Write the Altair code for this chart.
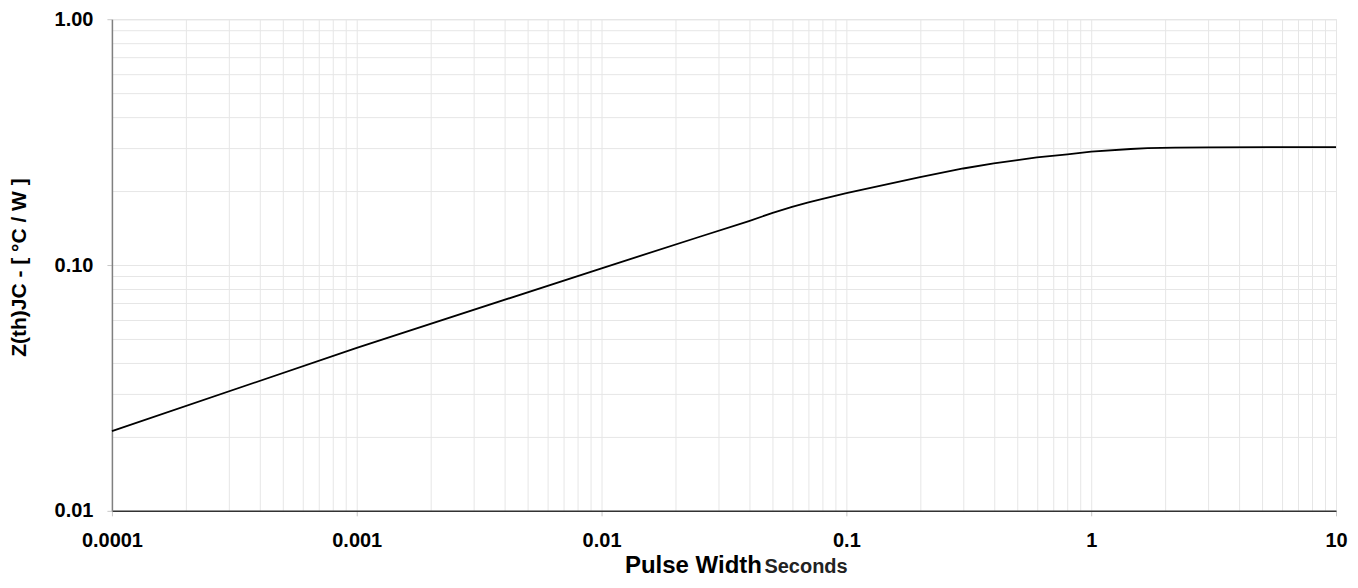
import altair as alt
import pandas as pd

# curve (pulse width in s, Zth in degC/W)
pulse_width = [0.0001, 0.001, 0.01, 0.025, 0.04, 0.05, 0.06, 0.07, 0.08, 0.1, 0.2, 0.3,
               0.4, 0.5, 0.6, 0.8, 1.0, 1.45, 1.7, 2.2, 3.0, 10.0]
zth = [0.0211, 0.046, 0.097, 0.130, 0.151, 0.163, 0.1725, 0.180, 0.186, 0.196, 0.228, 0.247,
       0.259, 0.267, 0.274, 0.282, 0.289, 0.2965, 0.299, 0.3005, 0.301, 0.302]

x_grid = [m * 10.0 ** e for e in range(-4, 1) for m in range(1, 10)] + [10.0]
y_grid = [m * 10.0 ** e for e in range(-2, 0) for m in range(1, 10)] + [1.0]

df = pd.DataFrame({"t": pulse_width, "z": zth})

W, H = 1225, 492
FONT = "Liberation Sans"
is_decade = "abs(log(datum.value)/LN10 - round(log(datum.value)/LN10)) < 1e-6"

x_axis = alt.Axis(
    values=x_grid, grid=True, gridColor="#e6e6e6", gridWidth=1,
    labelExpr=f"{is_decade} ? datum.label : ''", format="~g",
    labelFont=FONT, labelFontWeight="bold", labelFontSize=20, labelColor="#000",
    labelBaseline="alphabetic", labelPadding=31, labelFlush=False, labelOverlap=False,
    tickSize=5, tickColor="#c8c8c8",
    tickOpacity={"condition": {"test": is_decade, "value": 1}, "value": 0},
    domainColor="#333333", domainWidth=1.5,
    title="Pulse Width", titleFont=FONT, titleFontWeight="bold", titleFontSize=24,
    titleColor="#000", titleAlign="right", titleAnchor="start", titleX=650,
    titleY=62, titleBaseline="alphabetic",
)
y_axis = alt.Axis(
    values=y_grid, grid=True, gridColor="#e6e6e6", gridWidth=1,
    labelExpr=f"{is_decade} ? datum.label : ''", format=".2f",
    labelFont=FONT, labelFontWeight="bold", labelFontSize=20, labelColor="#000",
    labelPadding=14, labelFlush=False, labelOverlap=False,
    tickSize=5, tickColor="#c8c8c8",
    tickOpacity={"condition": {"test": is_decade, "value": 1}, "value": 0},
    domainColor="#808080", domainWidth=1.5,
    title="Z(th)JC - [ °C / W ]", titleFont=FONT, titleFontWeight="bold",
    titleFontSize=21, titleColor="#000", titleAngle=270, titleAlign="center",
    titleAnchor="middle", titleX=-86, titleY=H / 2 + 2, titleBaseline="alphabetic",
)

line = alt.Chart(df).mark_line(color="#000000", strokeWidth=1.8).encode(
    x=alt.X("t:Q", scale=alt.Scale(type="log", domain=[0.0001, 10], nice=False), axis=x_axis),
    y=alt.Y("z:Q", scale=alt.Scale(type="log", domain=[0.01, 1], nice=False), axis=y_axis),
)

seconds = alt.Chart(pd.DataFrame({"s": ["Seconds"]})).mark_text(
    font=FONT, fontWeight="bold", fontSize=20, align="left", baseline="alphabetic", color="#222"
).encode(text="s:N", x=alt.value(653), y=alt.value(H + 62))

frame = alt.Chart(pd.DataFrame({"a": [0]})).mark_rule(color="#e0e0e0", strokeWidth=1).encode(
    x=alt.value(-109), y=alt.value(-19), y2=alt.value(H + 70)
)

chart = alt.layer(frame, line, seconds).properties(
    width=W, height=H,
    autosize=alt.AutoSizeParams(type="none"),
    padding={"left": 104, "top": 11, "right": 14, "bottom": 66},
).configure_view(stroke="#808080", strokeWidth=1.5).configure(background="white")

chart.save("out.html", embed_options={"renderer": "svg", "actions": False})
